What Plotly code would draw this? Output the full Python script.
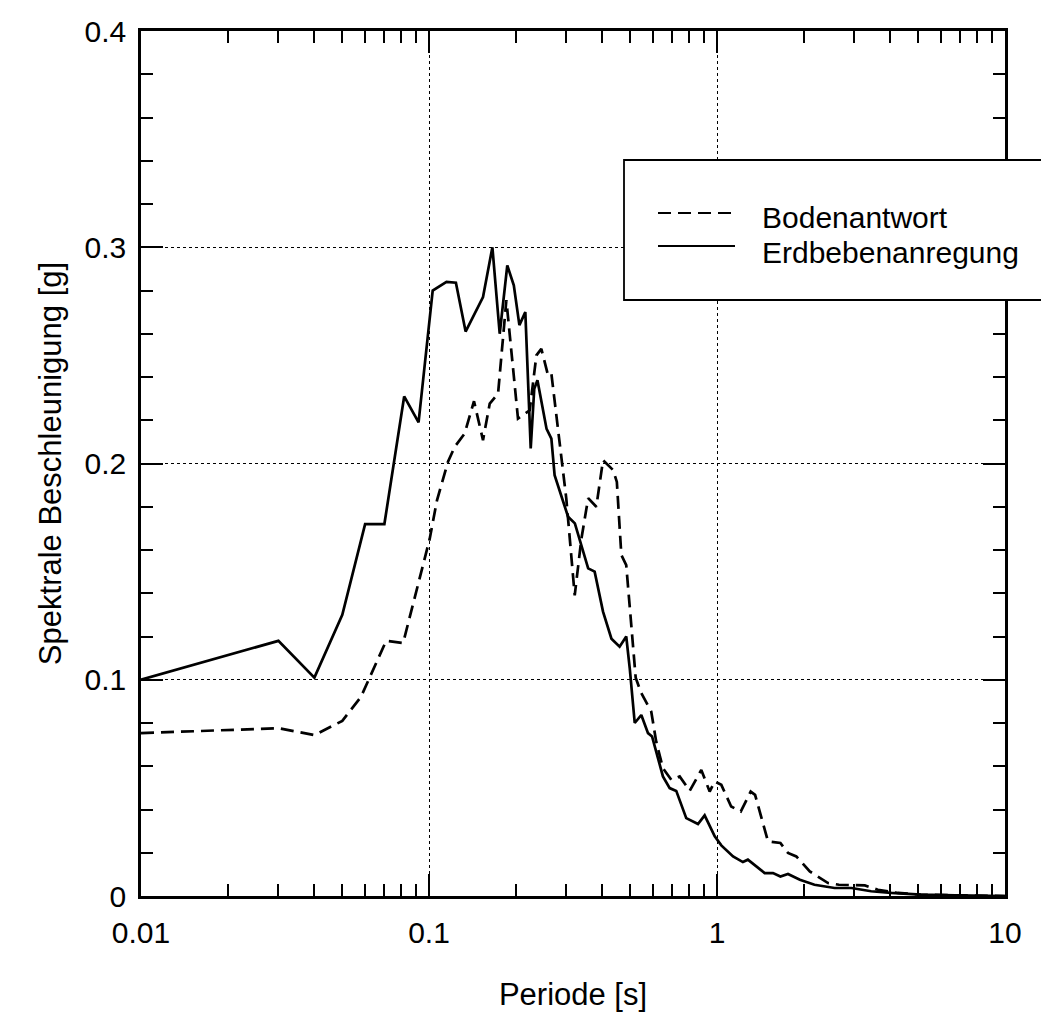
import plotly.graph_objects as go

# ---- data ----
periode_erdbeben = [0.01, 0.03, 0.04, 0.05, 0.06, 0.07, 0.082, 0.092, 0.103, 0.115, 0.124, 0.134,
                    0.154, 0.166, 0.176, 0.187, 0.197, 0.206, 0.216, 0.2255, 0.232, 0.238, 0.256,
                    0.266, 0.273, 0.292, 0.304, 0.321, 0.357, 0.376, 0.402, 0.43, 0.459, 0.484,
                    0.498, 0.518, 0.546, 0.576, 0.595, 0.649, 0.685, 0.722, 0.782, 0.859, 0.906,
                    0.982, 1.035, 1.137, 1.23, 1.28, 1.464, 1.565, 1.66, 1.764, 1.94, 2.18, 2.56,
                    2.93, 3.43, 4.03, 5.1, 6.7, 10.0]
erdbebenanregung = [0.100, 0.118, 0.101, 0.130, 0.172, 0.172, 0.231, 0.219, 0.280, 0.284, 0.2836,
                    0.261, 0.277, 0.300, 0.260, 0.2916, 0.2824, 0.264, 0.270, 0.207, 0.2346,
                    0.2385, 0.216, 0.2115, 0.1946, 0.182, 0.1754, 0.1723, 0.1515, 0.150, 0.1315,
                    0.119, 0.1153, 0.120, 0.105, 0.080, 0.0837, 0.0753, 0.0738, 0.0553, 0.0499,
                    0.0486, 0.036, 0.0333, 0.0373, 0.0276, 0.0234, 0.0183, 0.0157, 0.0168, 0.0106,
                    0.0106, 0.009, 0.0102, 0.0075, 0.0052, 0.0037, 0.0037, 0.0022, 0.0014, 0.0006,
                    0.0003, 0.0]

periode_boden = [0.01, 0.03, 0.04, 0.05, 0.058, 0.071, 0.0813, 0.1005, 0.1066, 0.1164, 0.1228,
                 0.133, 0.1433, 0.154, 0.1625, 0.1737, 0.1856, 0.2037, 0.2237, 0.236, 0.2455,
                 0.259, 0.266, 0.2997, 0.3206, 0.338, 0.357, 0.381, 0.402, 0.418, 0.4355, 0.449,
                 0.4654, 0.484, 0.50, 0.522, 0.545, 0.591, 0.615, 0.649, 0.694, 0.742, 0.804,
                 0.882, 0.943, 0.982, 1.035, 1.12, 1.21, 1.309, 1.356, 1.503, 1.66, 1.764, 1.885,
                 2.1, 2.43, 2.65, 3.26, 3.62, 4.25, 5.1, 10.0]
bodenantwort = [0.0753, 0.0776, 0.0744, 0.081, 0.092, 0.118, 0.117, 0.165, 0.183, 0.2008, 0.2077,
                0.2139, 0.2288, 0.2108, 0.2277, 0.2323, 0.2755, 0.2208, 0.2246, 0.250, 0.253,
                0.2408, 0.2416, 0.1838, 0.139, 0.165, 0.184, 0.180, 0.2015, 0.1992, 0.197, 0.1915,
                0.1577, 0.153, 0.130, 0.101, 0.094, 0.0853, 0.0714, 0.0591, 0.0537, 0.0553, 0.0486,
                0.0583, 0.0483, 0.053, 0.0514, 0.0414, 0.0391, 0.0483, 0.0468, 0.0253, 0.0245,
                0.0199, 0.0183, 0.0114, 0.006, 0.0052, 0.0049, 0.0029, 0.0014, 0.0006, 0.0]

x_tickvals = [0.01, 0.1, 1, 10]
x_ticktext = ["0.01", "0.1", "1", "10"]
x_minor = [m * d for d in (0.01, 0.1, 1) for m in range(2, 10)]
y_tickvals = [0, 0.1, 0.2, 0.3, 0.4]
y_ticktext = ["0", "0.1", "0.2", "0.3", "0.4"]

legend_names = ["Bodenantwort", "Erdbebenanregung"]

FONT = "Liberation Sans, Arial, Helvetica, sans-serif"
DASH = "13px,7px"

fig = go.Figure()
fig.add_trace(go.Scatter(x=periode_boden, y=bodenantwort, mode="lines", name=legend_names[0],
                         line=dict(color="black", width=2.7, dash=DASH), showlegend=False))
fig.add_trace(go.Scatter(x=periode_erdbeben, y=erdbebenanregung, mode="lines", name=legend_names[1],
                         line=dict(color="black", width=2.7), showlegend=False))

axis_common = dict(
    showline=True, linecolor="black", linewidth=2.5, mirror="allticks",
    ticks="inside", ticklen=22, tickwidth=2, tickcolor="black",
    showgrid=True, gridcolor="black", gridwidth=1, griddash="dot",
    zeroline=False, automargin=False,
    tickfont=dict(family=FONT, size=30, color="black"),
)

fig.update_xaxes(
    type="log", range=[-2, 1], tickmode="array", tickvals=x_tickvals, ticktext=x_ticktext,
    minor=dict(tickmode="array", tickvals=x_minor, ticks="inside", ticklen=12, tickwidth=2,
               tickcolor="black", showgrid=False),
    title=dict(text="Periode [s]", font=dict(family=FONT, size=31, color="black"), standoff=36),
    ticklabelstandoff=8,
    **axis_common,
)
fig.update_yaxes(
    range=[0, 0.4], tickmode="array", tickvals=y_tickvals, ticktext=y_ticktext,
    minor=dict(dtick=0.02, ticks="inside", ticklen=12, tickwidth=2, tickcolor="black",
               showgrid=False),
    title=dict(text="Spektrale Beschleunigung [g]", font=dict(family=FONT, size=31, color="black"),
               standoff=14),
    ticklabelstandoff=6,
    **axis_common,
)

# legend box (extends past the right edge, as in the reference)
def px_x(p):
    return (p - 133) / 864.0

def px_y(p):
    return (888 - p) / 865.0

fig.add_shape(type="rect", xref="paper", yref="paper", x0=px_x(616), x1=px_x(1080),
              y0=px_y(292), y1=px_y(152), line=dict(color="black", width=1.8),
              fillcolor="white", layer="above")
fig.add_shape(type="line", xref="paper", yref="paper", x0=px_x(650), x1=px_x(727),
              y0=px_y(205), y1=px_y(205), line=dict(color="black", width=2.2, dash=DASH),
              layer="above")
fig.add_shape(type="line", xref="paper", yref="paper", x0=px_x(650), x1=px_x(727),
              y0=px_y(238), y1=px_y(238), line=dict(color="black", width=2.2), layer="above")
fig.add_annotation(x=px_x(752), y=px_y(210), xref="paper", yref="paper", text=legend_names[0],
                   showarrow=False, xanchor="left", yanchor="middle",
                   font=dict(family=FONT, size=30, color="black"))
fig.add_annotation(x=px_x(752), y=px_y(245), xref="paper", yref="paper", text=legend_names[1],
                   showarrow=False, xanchor="left", yanchor="middle",
                   font=dict(family=FONT, size=30, color="black"))

fig.update_layout(
    width=1049, height=1017,
    margin=dict(l=133, r=52, t=23, b=129, autoexpand=False),
    paper_bgcolor="white", plot_bgcolor="white",
    font=dict(family=FONT, color="black"),
    showlegend=False,
)

fig.write_html("out.html")
